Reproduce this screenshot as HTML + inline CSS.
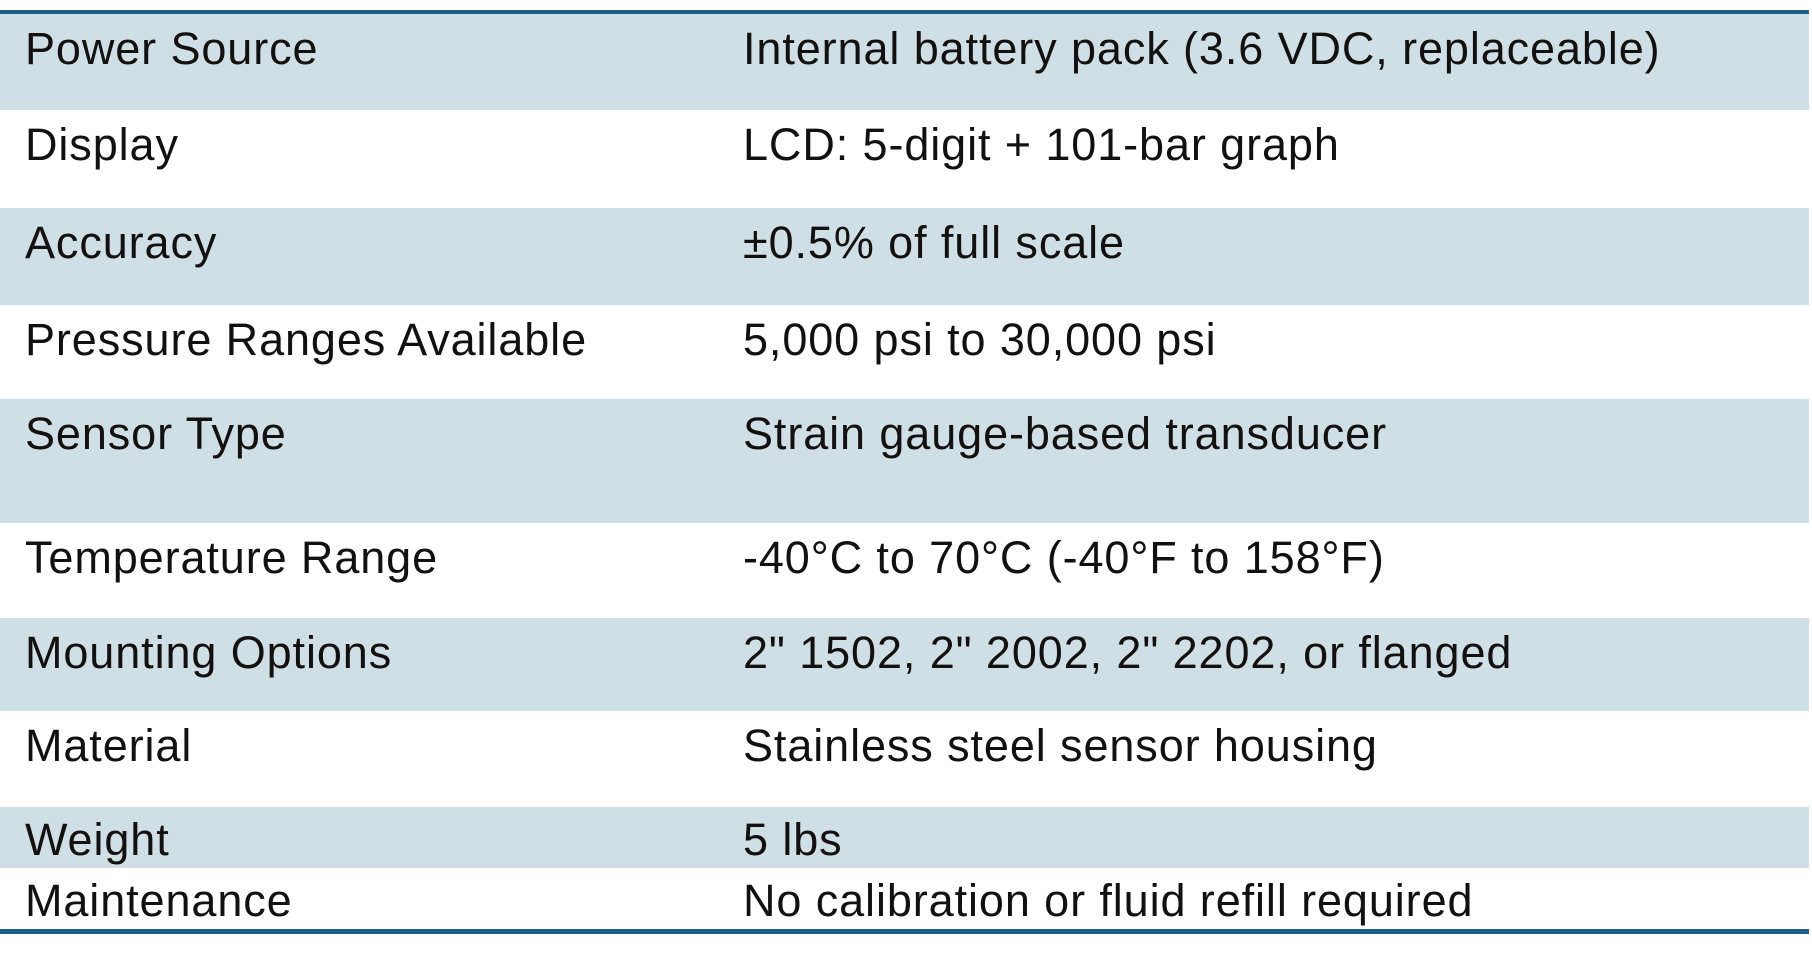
<!DOCTYPE html>
<html><head><meta charset="utf-8"><style>
html,body{margin:0;padding:0;background:#fff;width:1812px;height:963px;overflow:hidden}
#t{position:absolute;left:0;top:10px;width:1809px;border-top:4px solid #1d5f86;border-bottom:5px solid #1d5f86;font-family:"Liberation Sans",sans-serif;font-size:45px;letter-spacing:0.9px;color:#111}
.r{position:relative;box-sizing:border-box}
.g{background:#d0dee6}
.c1,.c2{position:absolute;top:12px;line-height:46px;white-space:nowrap}
.c1{left:25px}.c2{left:743px}
</style></head><body>
<div id="t">
<div class="r g" style="height:96px"><span class="c1">Power Source</span><span class="c2">Internal battery pack (3.6 VDC, replaceable)</span></div>
<div class="r" style="height:98px"><span class="c1">Display</span><span class="c2">LCD: 5-digit + 101-bar graph</span></div>
<div class="r g" style="height:97px"><span class="c1">Accuracy</span><span class="c2">±0.5% of full scale</span></div>
<div class="r" style="height:94px"><span class="c1">Pressure Ranges Available</span><span class="c2">5,000 psi to 30,000 psi</span></div>
<div class="r g" style="height:124px"><span class="c1">Sensor Type</span><span class="c2">Strain gauge-based transducer</span></div>
<div class="r" style="height:95px"><span class="c1">Temperature Range</span><span class="c2">-40°C to 70°C (-40°F to 158°F)</span></div>
<div class="r g" style="height:93px"><span class="c1">Mounting Options</span><span class="c2">2" 1502, 2" 2002, 2" 2202, or flanged</span></div>
<div class="r" style="height:96px"><span class="c1">Material</span><span class="c2">Stainless steel sensor housing</span></div>
<div class="r g" style="height:61px"><span class="c1" style="top:10px">Weight</span><span class="c2" style="top:10px">5 lbs</span></div>
<div class="r" style="height:61px"><span class="c1" style="top:10px">Maintenance</span><span class="c2" style="top:10px">No calibration or fluid refill required</span></div>
</div>
</body></html>
